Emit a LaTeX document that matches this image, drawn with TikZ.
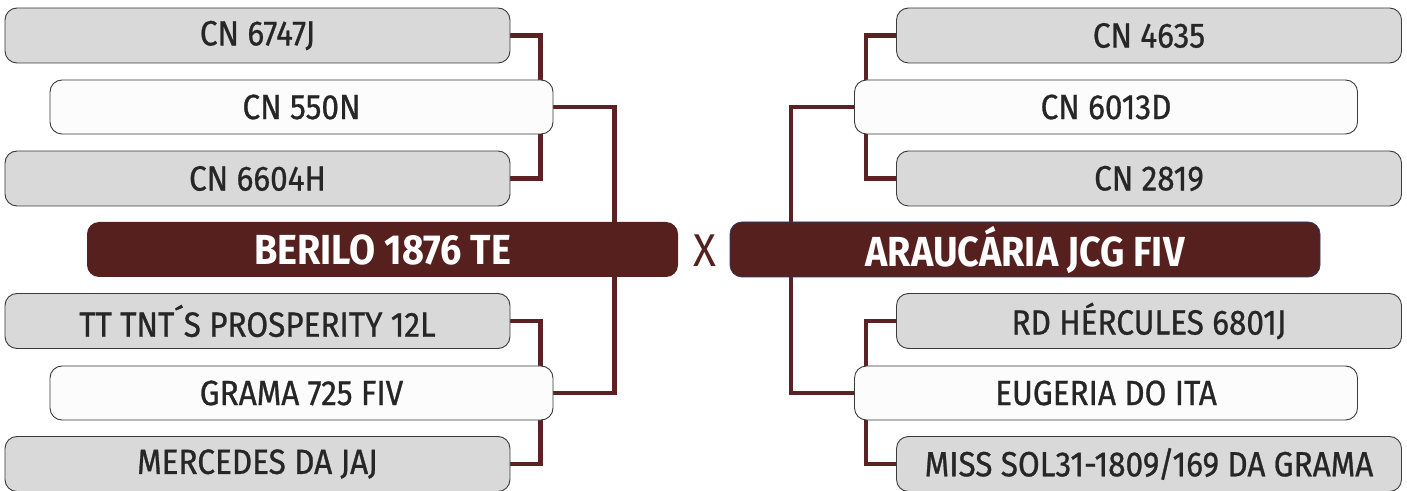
\documentclass[tikz,border=0pt]{standalone}
\usepackage{fontspec}
\setmainfont{Fira Sans}[FakeStretch=0.92]
\newfontfamily\boxfont{Fira Sans}[FakeStretch=0.9, FakeBold=0.8]
\newfontfamily\titlefont{Fira Sans}[FakeStretch=0.9, UprightFont=*-Bold]
\usetikzlibrary{backgrounds}
\definecolor{wine}{HTML}{56201F}
\definecolor{wireC}{HTML}{5A2222}
\definecolor{boxgray}{HTML}{D9D9D9}
\definecolor{boxwhite}{HTML}{FCFCFC}
\definecolor{edgegray}{HTML}{3A3A3A}
\definecolor{navyedge}{HTML}{2B3A66}
\pgfdeclarelayer{wires}
\pgfsetlayers{background,wires,main}
\tikzset{
  graybox/.style={draw=edgegray, line width=0.9pt, fill=boxgray, rounded corners=12pt,
    minimum width=505pt, minimum height=55pt, inner sep=0pt, text=black!85,
    font=\boxfont\fontsize{35}{40}\selectfont},
  whitebox/.style={graybox, fill=boxwhite, minimum width=503pt, minimum height=54pt},
  titlebox/.style={fill=wine, rounded corners=12pt, minimum width=591pt, minimum height=55pt,
    inner sep=0pt, text=white, font=\titlefont\fontsize{42}{46}\selectfont},
  wire/.style={draw=wireC, line width=4.6pt}
}
\begin{document}
\begin{tikzpicture}[x=1pt,y=1pt]
\begin{scope}[on background layer]
\fill[white] (0,0) rectangle (1407,490);
\end{scope}
\useasboundingbox (0,0) rectangle (1407,490);
% left side
\node[graybox] (a1) at (257.5,454.5) {CN 6747J};
\node[whitebox] (a2) at (301.5,383) {CN 550N};
\node[graybox] (a3) at (257.5,311.5) {CN 6604H};
\node[titlebox] (A) at (382.5,240.5) {BERILO 1876 TE};
\node[graybox] (a4) at (257.5,169) {TT TNT´S PROSPERITY 12L};
\node[whitebox] (a5) at (301.5,97) {GRAMA 725 FIV};
\node[graybox] (a6) at (257.5,26) {MERCEDES DA JAJ};
% right side
\node[graybox] (b1) at (1149,454.5) {CN 4635};
\node[whitebox] (b2) at (1106,383) {CN 6013D};
\node[graybox] (b3) at (1149,311.5) {CN 2819};
\node[titlebox, draw=navyedge, line width=0.8pt, minimum width=590pt] (B) at (1025,240.5) {ARAUCÁRIA JCG FIV};
\node[graybox] (b4) at (1149,169) {RD HÉRCULES 6801J};
\node[whitebox] (b5) at (1106,97) {EUGERIA DO ITA};
\node[graybox] (b6) at (1149,26) {MISS SOL31-1809/169 DA GRAMA};
% versus
\node[text=wine, font=\fontsize{46}{50}\selectfont, inner sep=0pt] (vs) at (705,239) {X};
\begin{pgfonlayer}{wires}
\draw[wire] (a1.east) -- ++(30,0) |- (a3.east);
\draw[wire] (a2.east) -- ++(61,0) |- (a5.east);
\draw[wire] (a4.east) -- ++(30,0) |- (a6.east);
\draw[wire] (b1.west) -- ++(-30,0) |- (b3.west);
\draw[wire] (b2.west) -- ++(-63,0) |- (b5.west);
\draw[wire] (b4.west) -- ++(-30,0) |- (b6.west);
\end{pgfonlayer}
\end{tikzpicture}
\end{document}
